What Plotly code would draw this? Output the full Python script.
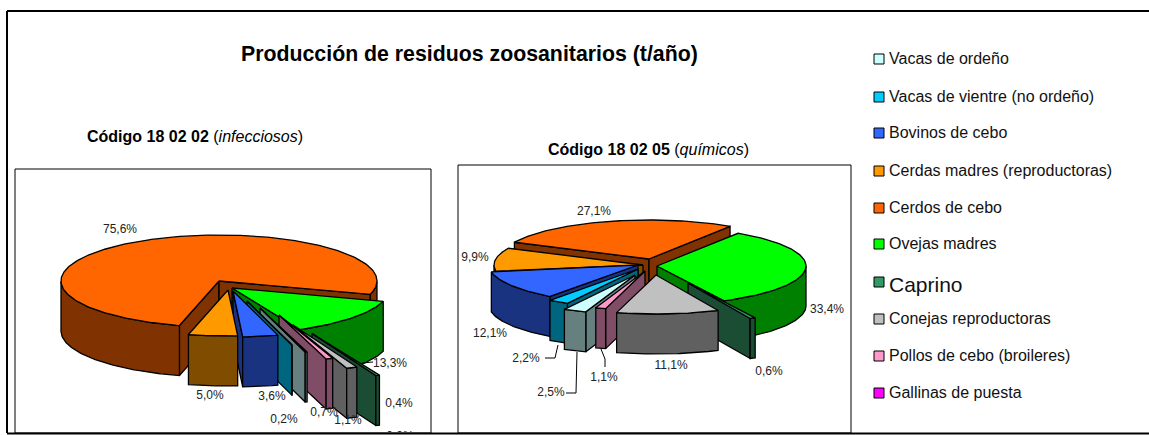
import math
import plotly.graph_objects as go

CATEGORIES = ["Vacas de ordeño", "Vacas de vientre (no ordeño)", "Bovinos de cebo",
              "Cerdas madres (reproductoras)", "Cerdos de cebo", "Ovejas madres",
              "Caprino", "Conejas reproductoras", "Pollos de cebo (broileres)", "Gallinas de puesta"]
VALUES_INFECCIOSOS = [0.2, 0.04, 3.6, 5.0, 75.6, 13.3, 0.4, 1.1, 0.7, 0.0]
VALUES_QUIMICOS = [2.5, 2.2, 12.1, 9.9, 27.1, 33.4, 0.6, 11.1, 1.1, 0.0]
TITLE = "Producción de residuos zoosanitarios (t/año)"

# styles
TOP_COLORS = ["#CCFFFF", "#00CCFF", "#3366FF", "#FF9900", "#FF6600",
              "#00FF00", "#339966", "#C0C0C0", "#FF99CC", "#FF00FF"]
SIDE_COLORS = ["#668080", "#006680", "#1A3380", "#804C00", "#803300",
               "#008000", "#1A4D33", "#606060", "#804D66", "#800080"]
# Wedge tips after explosion, one per category, in picture pixels.
LEFT_PIE = dict(rx=158, ry=46, h=50, start=194.5,
                tips=[(260, 308), (247, 301), (233, 291), (228, 290), (219, 281),
                      (232, 288), (312, 333.5), (293, 325), (279, 315), (270, 310)])
RIGHT_PIE = dict(rx=149, ry=39, h=40, start=-64.6,
                 tips=[(635, 275), (638, 269), (638, 265), (643, 265), (649, 259),
                       (657, 266), (688, 283), (656, 275), (645, 271), (645, 271)])
LEFT_LABELS = [("75,6%", 120, 230), ("13,3%", 390, 364), ("5,0%", 210, 396), ("3,6%", 272, 397),
               ("0,2%", 284, 420), ("0,7%", 324, 413), ("1,1%", 348, 421), ("0,4%", 399, 404),
               ("0,0%", 400, 437)]
RIGHT_LABELS = [("27,1%", 594, 212), ("33,4%", 827, 310), ("9,9%", 475, 258), ("12,1%", 490, 334),
                ("11,1%", 671, 366), ("0,6%", 769, 372), ("2,2%", 526, 359), ("2,5%", 551, 393),
                ("1,1%", 604, 378)]
LEADERS = [[(362, 363), (373, 362)],
           [(558, 345), (555, 358), (545, 358)],
           [(577, 352), (576, 393), (566, 393)],
           [(601, 349), (605, 359), (605, 367)]]
LEGEND_Y = [59, 97, 133, 171, 208, 244, 282, 319, 356, 393]
LEGEND_TEXT_Y = [58, 96, 132, 170, 207, 243, 284, 318, 355, 392]
LEGEND_SIZE = [16, 16, 16, 16, 16, 16, 21, 16, 16, 16]

fig = go.Figure()


def poly(points, fill):
    xs = [p[0] for p in points] + [points[0][0]]
    ys = [p[1] for p in points] + [points[0][1]]
    fig.add_trace(go.Scatter(x=xs, y=ys, mode="lines", fill="toself", fillcolor=fill,
                             line=dict(color="black", width=1.3), showlegend=False,
                             hoverinfo="skip"))


def exploded_pie(values, p):
    total = sum(values)
    # Slices run clockwise from Cerdos de cebo round to Cerdas madres.
    order = [4, 5, 6, 7, 8, 9, 0, 1, 2, 3]
    th = p["start"]
    slices = []
    for i in order:
        sweep = values[i] / total * 360
        if sweep > 0:
            slices.append((i, th, th + sweep))
        th += sweep
    # Far slices first, the ones facing the viewer last.
    slices.sort(key=lambda s: -abs(((s[1] + s[2]) / 2) % 360 - 180))

    for i, a, b in slices:
        ax, ay = p["tips"][i]
        h = p["h"]
        n = max(2, int(b - a))
        angles = [a + (b - a) * k / n for k in range(n + 1)]
        arc = [(ax + p["rx"] * math.sin(math.radians(t)),
                ay - p["ry"] * math.cos(math.radians(t))) for t in angles]
        if math.sin(math.radians(a)) < 0:
            poly([(ax, ay), arc[0], (arc[0][0], arc[0][1] + h), (ax, ay + h)], SIDE_COLORS[i])
        if math.sin(math.radians(b)) > 0:
            poly([(ax, ay), arc[-1], (arc[-1][0], arc[-1][1] + h), (ax, ay + h)], SIDE_COLORS[i])
        run = []
        for t, q in zip(angles, arc):
            if math.cos(math.radians(t)) <= 0:
                run.append(q)
            else:
                if len(run) > 1:
                    poly(run + [(r[0], r[1] + h) for r in reversed(run)], SIDE_COLORS[i])
                run = []
        if len(run) > 1:
            poly(run + [(r[0], r[1] + h) for r in reversed(run)], SIDE_COLORS[i])
        poly([(ax, ay)] + arc, TOP_COLORS[i])


exploded_pie(VALUES_INFECCIOSOS, LEFT_PIE)
exploded_pie(VALUES_QUIMICOS, RIGHT_PIE)

for seg in LEADERS:
    fig.add_trace(go.Scatter(x=[q[0] for q in seg], y=[q[1] for q in seg], mode="lines",
                             line=dict(color="black", width=1), showlegend=False, hoverinfo="skip"))

labels = LEFT_LABELS + RIGHT_LABELS
fig.add_trace(go.Scatter(x=[l[1] for l in labels], y=[l[2] for l in labels],
                         text=[l[0] for l in labels], mode="text", textposition="middle center",
                         textfont=dict(family="Liberation Sans", size=12, color="#222222"),
                         showlegend=False, hoverinfo="skip"))

for name, color, my, ty, size in zip(CATEGORIES, TOP_COLORS, LEGEND_Y, LEGEND_TEXT_Y, LEGEND_SIZE):
    fig.add_trace(go.Scatter(x=[879], y=[my], mode="markers",
                             marker=dict(symbol="square", size=10, color=color,
                                         line=dict(color="black", width=1)),
                             showlegend=False, hoverinfo="skip"))
    fig.add_annotation(x=889, y=ty, xref="x", yref="y", text=name, showarrow=False, xanchor="left",
                       yanchor="middle", xshift=-2,
                       font=dict(family="Liberation Sans", size=size, color="#111111"))

fig.add_annotation(x=469, y=54, xref="x", yref="y", text=f"<b>{TITLE}</b>", showarrow=False,
                   font=dict(family="Liberation Sans", size=21.3, color="black"))
fig.add_annotation(x=195, y=136, xref="x", yref="y", text="<b>Código 18 02 02</b> (<i>infecciosos</i>)",
                   showarrow=False, font=dict(family="Liberation Sans", size=16, color="black"))
fig.add_annotation(x=648, y=149, xref="x", yref="y", text="<b>Código 18 02 05</b> (<i>químicos</i>)",
                   showarrow=False, font=dict(family="Liberation Sans", size=16, color="black"))

frame = dict(type="rect", xref="x", yref="y", fillcolor="rgba(0,0,0,0)", layer="above")
shapes = [
    dict(type="rect", xref="x", yref="y", x0=0, x1=1149, y0=432, y1=435, layer="above",
         fillcolor="white", line=dict(width=0)),
    dict(frame, x0=15, y0=169, x1=431, y1=433, line=dict(color="black", width=1)),
    dict(frame, x0=458, y0=165, x1=851, y1=433, line=dict(color="black", width=1)),
    dict(type="line", xref="x", yref="y", x0=7, y0=11, x1=1149, y1=11, line=dict(color="black", width=2)),
    dict(type="line", xref="x", yref="y", x0=7, y0=11, x1=7, y1=433, line=dict(color="black", width=2)),
    dict(type="line", xref="x", yref="y", x0=7, y0=433.5, x1=1149, y1=433.5, line=dict(color="black", width=2)),
]
fig.update_layout(width=1149, height=435, margin=dict(l=0, r=0, t=0, b=0), plot_bgcolor="white",
                  paper_bgcolor="white", shapes=shapes,
                  xaxis=dict(range=[0, 1149], visible=False, fixedrange=True),
                  yaxis=dict(range=[435, 0], visible=False, fixedrange=True))
fig.write_html("out.html", config={"displayModeBar": False},
               post_script="document.body.style.margin='0';document.body.style.overflow='hidden';")
